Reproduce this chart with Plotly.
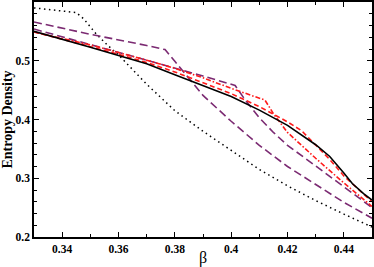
import plotly.graph_objects as go

# Black solid
x_solid = [0.33, 0.34, 0.35, 0.36, 0.37, 0.38, 0.39, 0.40, 0.41, 0.42, 0.43, 0.435, 0.44, 0.443, 0.447, 0.45]
y_solid = [0.550, 0.537, 0.523, 0.509, 0.495, 0.476, 0.457, 0.439, 0.416, 0.390, 0.357, 0.337, 0.309, 0.291, 0.274, 0.263]

# Black dotted
x_dot = [0.33, 0.345, 0.3477, 0.352, 0.356, 0.36, 0.37, 0.38, 0.39, 0.40, 0.41, 0.42, 0.43, 0.44, 0.45]
y_dot = [0.590, 0.582, 0.571, 0.546, 0.527, 0.510, 0.460, 0.415, 0.380, 0.347, 0.315, 0.287, 0.262, 0.239, 0.217]

# Purple dashed A
x_pa = [0.33, 0.35, 0.37, 0.3765, 0.38, 0.385, 0.39, 0.40, 0.41, 0.42, 0.43, 0.44, 0.45]
y_pa = [0.566, 0.545, 0.526, 0.519, 0.499, 0.469, 0.441, 0.397, 0.356, 0.320, 0.289, 0.259, 0.232]

# Purple dashed B
x_pb = [0.33, 0.35, 0.37, 0.39, 0.4014, 0.405, 0.41, 0.415, 0.42, 0.43, 0.44, 0.45]
y_pb = [0.554, 0.528, 0.501, 0.474, 0.458, 0.433, 0.403, 0.378, 0.356, 0.321, 0.286, 0.250]

# Red dashed
x_rd = [0.33, 0.34, 0.35, 0.36, 0.37, 0.38, 0.39, 0.40, 0.41, 0.42, 0.425, 0.43, 0.435, 0.44, 0.445, 0.45]
y_rd = [0.549, 0.537, 0.524, 0.511, 0.497, 0.481, 0.463, 0.444, 0.422, 0.396, 0.381, 0.356, 0.332, 0.304, 0.282, 0.260]

# Red dash-dot
x_rdd = [0.33, 0.35, 0.37, 0.38, 0.39, 0.40, 0.412, 0.415, 0.42, 0.43, 0.44, 0.45]
y_rdd = [0.549, 0.527, 0.501, 0.487, 0.471, 0.453, 0.433, 0.410, 0.378, 0.334, 0.292, 0.252]

x_ticks = [0.34, 0.36, 0.38, 0.40, 0.42, 0.44]
x_ticktext = ["0.34", "0.36", "0.38", "0.4", "0.42", "0.44"]
y_ticks = [0.2, 0.3, 0.4, 0.5]
y_ticktext = ["0.2", "0.3", "0.4", "0.5"]

PURPLE = "#7b2a72"
RED = "#ff1a1a"

fig = go.Figure()
fig.add_trace(go.Scatter(x=x_dot, y=y_dot, mode="lines",
                         line=dict(color="black", width=1.5, dash="1.5px,3.5px")))
fig.add_trace(go.Scatter(x=x_pa, y=y_pa, mode="lines",
                         line=dict(color=PURPLE, width=1.6, dash="8px,4px")))
fig.add_trace(go.Scatter(x=x_pb, y=y_pb, mode="lines",
                         line=dict(color=PURPLE, width=1.6, dash="8px,4px")))
fig.add_trace(go.Scatter(x=x_rd, y=y_rd, mode="lines",
                         line=dict(color=RED, width=1.6, dash="5px,3px")))
fig.add_trace(go.Scatter(x=x_rdd, y=y_rdd, mode="lines",
                         line=dict(color=RED, width=1.6, dash="5px,2px,1.5px,2px")))
fig.add_trace(go.Scatter(x=x_solid, y=y_solid, mode="lines",
                         line=dict(color="black", width=1.6)))

fig.update_layout(
    width=374, height=267,
    margin=dict(l=34, r=2, t=2, b=30, autoexpand=False),
    paper_bgcolor="white", plot_bgcolor="white",
    showlegend=False,
    xaxis=dict(
        range=[0.33, 0.45], tickvals=x_ticks, ticktext=x_ticktext,
        ticks="inside", ticklen=5, tickwidth=1, tickcolor="black",
        showline=True, linecolor="black", linewidth=1.5, mirror="ticks",
        showgrid=False, zeroline=False, automargin=False,
        tickfont=dict(family="Liberation Serif", size=11.5, color="black", weight="bold"),
        minor=dict(tickvals=[0.33, 0.35, 0.37, 0.39, 0.41, 0.43, 0.45], ticks="inside", ticklen=3, tickcolor="black"),
        title=dict(text="β", font=dict(family="Liberation Serif", size=16, color="black"), standoff=0),
    ),
    yaxis=dict(
        range=[0.2, 0.6], tickvals=y_ticks, ticktext=y_ticktext,
        ticks="inside", ticklen=5, tickwidth=1, tickcolor="black",
        showline=True, linecolor="black", linewidth=1.5, mirror="ticks",
        showgrid=False, zeroline=False, automargin=False,
        tickfont=dict(family="Liberation Serif", size=11.5, color="black", weight="bold"),
        minor=dict(tickvals=[0.22, 0.24, 0.26, 0.28, 0.32, 0.34, 0.36, 0.38, 0.42, 0.44, 0.46, 0.48, 0.52, 0.54, 0.56, 0.58],
                   ticks="inside", ticklen=3, tickcolor="black"),
        title=dict(text="Entropy Density", font=dict(family="Liberation Serif", size=14, color="black", weight="bold"), standoff=0),
    ),
)
fig.write_html("out.html", config={"displayModeBar": False},
               post_script="document.body.style.margin='0px';document.body.style.overflow='hidden';")
